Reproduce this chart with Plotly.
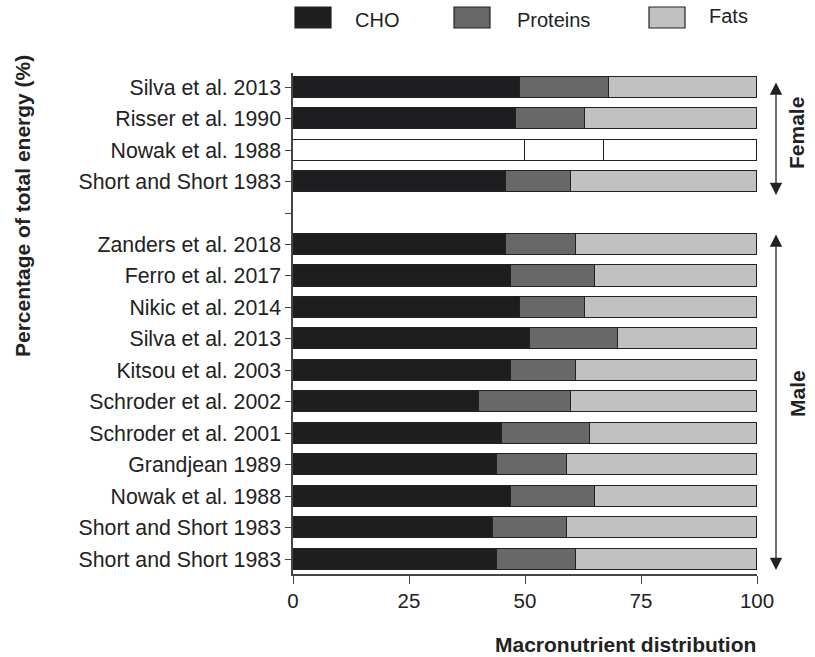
import plotly.graph_objects as go

# Studies listed top to bottom, with the sex group of each row
studies = [
    "Silva et al. 2013", "Risser et al. 1990", "Nowak et al. 1988", "Short and Short 1983",
    "Zanders et al. 2018", "Ferro et al. 2017", "Nikic et al. 2014", "Silva et al. 2013",
    "Kitsou et al. 2003", "Schroder et al. 2002", "Schroder et al. 2001", "Grandjean 1989",
    "Nowak et al. 1988", "Short and Short 1983", "Short and Short 1983",
]
sex = ["Female"] * 4 + ["Male"] * 11

# Share of total energy (%) per macronutrient
cho = [49, 48, 50, 46, 46, 47, 49, 51, 47, 40, 45, 44, 47, 43, 44]
proteins = [19, 15, 17, 14, 15, 18, 14, 19, 14, 20, 19, 15, 18, 16, 17]
fats = [32, 37, 33, 40, 39, 35, 37, 30, 39, 40, 36, 41, 35, 41, 39]

# Rows without a reported breakdown are drawn unfilled
unfilled = [False, False, True] + [False] * 12

series = [("CHO", cho, "#1e1e20"), ("Proteins", proteins, "#686868"), ("Fats", fats, "#c1c1c2")]

FONT = "Liberation Sans, Arial, sans-serif"
INK = "#222222"

# Row positions: male rows at the bottom, a blank slot, then female rows
n_male = sex.count("Male")
n_female = sex.count("Female")
positions = []
for i, s in enumerate(sex):
    if s == "Female":
        positions.append(n_male + 1 + (n_female - 1 - i))
    else:
        positions.append(n_male - 1 - (i - n_female))
gap_pos = n_male

fig = go.Figure()
for name, vals, color in series:
    fig.add_trace(go.Bar(
        y=positions, x=vals, name=name, orientation="h", width=0.67,
        marker=dict(color=["#ffffff" if u else color for u in unfilled],
                    line=dict(color=INK, width=1.4)),
        showlegend=False,
    ))

fig.update_layout(
    barmode="stack",
    width=815, height=657,
    margin=dict(l=293, r=58, t=73, b=83),
    plot_bgcolor="white", paper_bgcolor="white",
    font=dict(family=FONT, size=20, color=INK),
    bargap=0,
)

fig.update_xaxes(
    range=[0, 100], tickvals=[0, 25, 50, 75, 100],
    showgrid=False, zeroline=False,
    showline=True, linecolor="#444444", linewidth=1.5,
    ticks="outside", ticklen=8, tickwidth=1.3, tickcolor="#444444",
    tickfont=dict(size=20.5, family=FONT, color=INK),
)
fig.update_yaxes(
    range=[-0.47, 15.45],
    tickvals=positions + [gap_pos],
    ticktext=studies + [""],
    showgrid=False, zeroline=False,
    showline=True, linecolor="#444444", linewidth=1.5,
    ticks="outside", ticklen=6, tickwidth=1.3, tickcolor="#444444",
    tickfont=dict(size=21.3, family=FONT, color=INK),
    ticklabelstandoff=0,
)

# Pixel helpers for layout decorations
PL, PR, PT, PB = 293, 757, 73, 574


def px_x(p):
    return (p - PL) / (PR - PL)


def px_y(p):
    return (PB - p) / (PB - PT)


# Legend: large swatches with labels above the plot
legend_items = [("CHO", "#1e1e20", 295, 353, 20), ("Proteins", "#686868", 454, 515, 20),
                ("Fats", "#c1c1c2", 649, 707, 16)]
for label, color, sx, tx, ty in legend_items:
    fig.add_shape(type="rect", xref="paper", yref="paper",
                  x0=px_x(sx), x1=px_x(sx + 36), y0=px_y(28), y1=px_y(7),
                  fillcolor=color, line=dict(color=INK, width=1.2))
    fig.add_annotation(text=label, xref="paper", yref="paper", x=px_x(tx), y=px_y(ty),
                       xanchor="left", yanchor="middle", showarrow=False,
                       font=dict(size=20, family=FONT, color=INK))

# Group brackets: double-headed arrows with rotated group names
for y_top, y_bot, label, label_y in [(81, 195, "Female", 133), (233, 570, "Male", 394)]:
    fig.add_annotation(
        x=px_x(776), y=px_y(y_bot), xref="paper", yref="paper",
        axref="pixel", ayref="pixel", ax=0, ay=-(y_bot - y_top),
        text="", showarrow=True, arrowside="end+start",
        arrowhead=2, arrowsize=1.9, arrowwidth=1.3, arrowcolor=INK,
        standoff=0, startstandoff=0,
    )
    fig.add_annotation(
        x=px_x(797), y=px_y(label_y), xref="paper", yref="paper", text=f"<b>{label}</b>",
        textangle=-90, showarrow=False, xanchor="center", yanchor="middle",
        font=dict(size=21, family=FONT, color=INK),
    )

# Axis titles
fig.add_annotation(text="<b>Percentage of total energy (%)</b>", xref="paper", yref="paper",
                   x=px_x(22), y=px_y(206), textangle=-90, showarrow=False,
                   xanchor="center", yanchor="middle", font=dict(size=21, family=FONT, color=INK))
fig.add_annotation(text="<b>Macronutrient distribution</b>", xref="paper", yref="paper",
                   x=px_x(758), y=px_y(644), showarrow=False,
                   xanchor="right", yanchor="middle", font=dict(size=21, family=FONT, color=INK))

fig.write_html("out.html")
